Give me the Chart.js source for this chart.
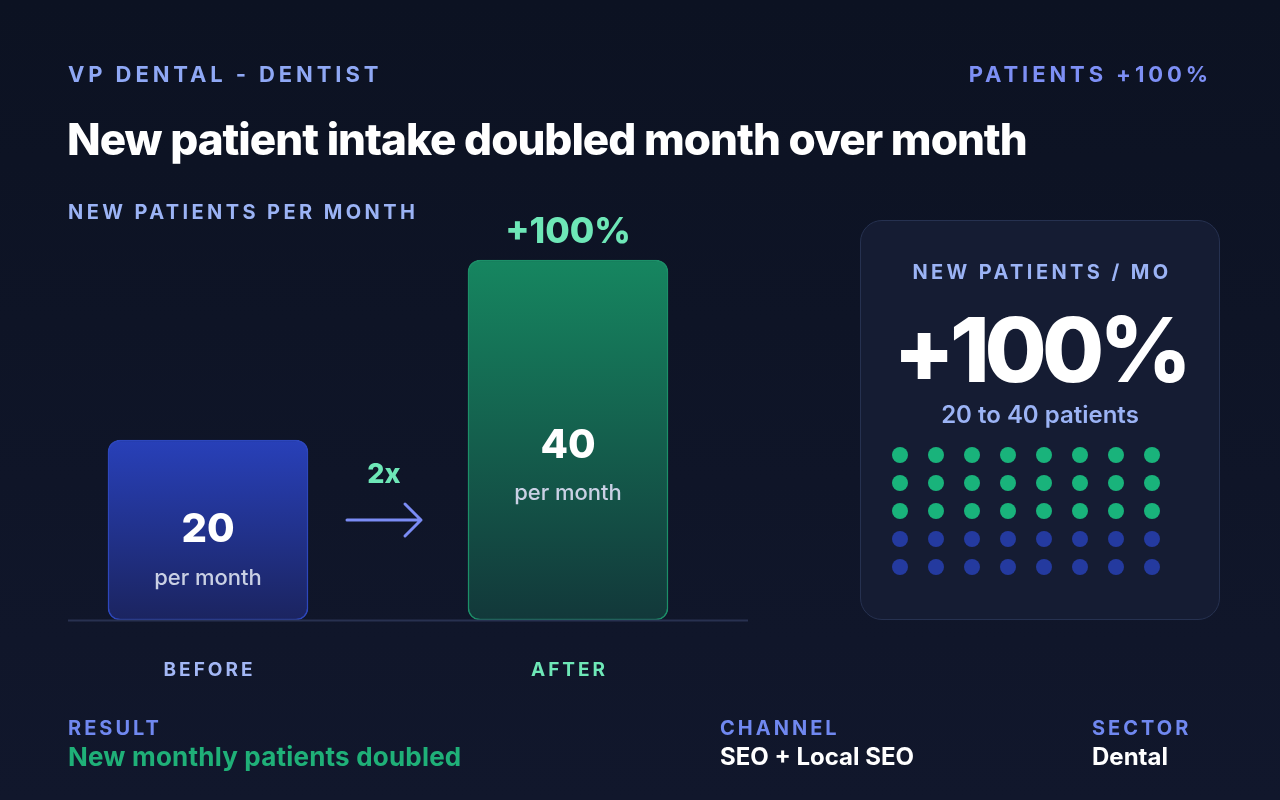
<!DOCTYPE html>
<html>
<head>
<meta charset="utf-8">
<script src="https://cdn.jsdelivr.net/npm/chart.js@4.4.1/dist/chart.umd.min.js"></script>
<style>
  html, body { margin:0; padding:0; }
  body { width:1280px; height:800px; overflow:hidden; position:relative;
         background: linear-gradient(180deg, #0c1222 0%, #11172c 100%);
         font-family: Inter, "Noto Sans", sans-serif; }
  .abs { position:absolute; white-space:nowrap; }
  .kicker { font-size:22px; font-weight:700; letter-spacing:3.9px; color:#8fa8f5; }
  .title { font-size:44px; font-weight:800; letter-spacing:-1px; color:#ffffff; }
  .sub { font-size:20px; font-weight:700; letter-spacing:3.4px; color:#9bb3f5; }
  .card { position:absolute; left:860px; top:220px; width:358px; height:398px;
          border:1px solid #263150; border-radius:22px; background:#151c33; }
  .flabel { font-size:20px; font-weight:700; letter-spacing:3px; color:#7088f0; }
  .fval { font-size:24px; font-weight:700; color:#ffffff; letter-spacing:0px; }
  canvas { position:absolute; }
</style>
</head>
<body>
<div class="card"></div>
<canvas id="bars" width="1280" height="800" style="left:0;top:0;width:1280px;height:800px;"></canvas>
<canvas id="dots" width="300" height="145" style="left:880px;top:440px;width:300px;height:145px;"></canvas>

<div class="abs kicker" style="left:68px;top:61px;">VP DENTAL - DENTIST</div>
<div class="abs kicker" style="right:68px;top:61px;color:#7d8ff5;">PATIENTS +100%</div>
<div class="abs title" style="left:67px;top:112px;">New patient intake doubled month over month</div>
<div class="abs sub" style="left:68px;top:200px;">NEW PATIENTS PER MONTH</div>

<div class="abs sub" style="left:862px;width:360px;text-align:center;top:260px;">NEW PATIENTS / MO</div>
<div class="abs" style="left:860px;width:360px;text-align:center;top:295px;font-size:90px;font-weight:800;letter-spacing:-5px;color:#fff;line-height:110px;">+100%</div>
<div class="abs" style="left:860px;width:360px;text-align:center;top:400px;font-size:24px;font-weight:600;color:#9bb3f5;">20 to 40 patients</div>

<div class="abs flabel" style="left:68px;top:716px;">RESULT</div>
<div class="abs fval" style="left:68px;top:741px;color:#1fb078;font-size:26px;letter-spacing:0.2px;">New monthly patients doubled</div>
<div class="abs flabel" style="left:720px;top:716px;">CHANNEL</div>
<div class="abs fval" style="left:720px;top:742px;">SEO + Local SEO</div>
<div class="abs flabel" style="left:1092px;top:716px;">SECTOR</div>
<div class="abs fval" style="left:1092px;top:742px;">Dental</div>

<script>
// ---- data ----
const categories = ['BEFORE', 'AFTER'];
const patientsPerMonth = [20, 40];
const valueUnit = 'per month';
const changeLabel = '+100%';
const multiplierLabel = '2x';
const yTicks = [0, 40];
// pictogram grid: 8 dots per row, row groups top to bottom
const dotColumns = [0, 1, 2, 3, 4, 5, 6, 7];
const dotRowGroups = ['after', 'after', 'after', 'before', 'before'];

const catColors = {
  BEFORE: { top:'#2840b9', bottom:'#1b2460', border:'#2d47bd', label:'#a3b7f5' },
  AFTER:  { top:'#168660', bottom:'#12383a', border:'#1c8f68', label:'#6ee7b7' }
};

function barGradient(c) {
  const chart = c.chart;
  const area = chart.chartArea;
  const cat = categories[c.dataIndex];
  const col = catColors[cat];
  if (!area) return col.top;
  const y = chart.scales.y;
  const top = y.getPixelForValue(patientsPerMonth[c.dataIndex]);
  const bottom = y.getPixelForValue(0);
  const g = chart.ctx.createLinearGradient(0, top, 0, bottom);
  g.addColorStop(0, col.top);
  g.addColorStop(1, col.bottom);
  return g;
}

const overlay = {
  id: 'overlay',
  afterDatasetsDraw(chart) {
    const ctx = chart.ctx;
    const meta = chart.getDatasetMeta(0);
    const yScale = chart.scales.y;
    const base = yScale.getPixelForValue(0);
    ctx.save();
    // baseline
    ctx.strokeStyle = '#283150';
    ctx.lineWidth = 2;
    ctx.beginPath();
    ctx.moveTo(68, base + 0.5);
    ctx.lineTo(748, base + 0.5);
    ctx.stroke();

    ctx.textAlign = 'center';
    ctx.textBaseline = 'middle';
    meta.data.forEach((bar, i) => {
      const x = bar.x;
      const top = bar.y;
      const h = base - top;
      const vy = top + h * 0.53 - 5;
      ctx.letterSpacing = '0px';
      ctx.fillStyle = '#ffffff';
      ctx.font = '800 40px Inter';
      ctx.fillText(String(patientsPerMonth[i]), x, vy);
      ctx.fillStyle = '#c9d0e4';
      ctx.font = '500 22px Inter';
      ctx.fillText(valueUnit, x, vy + 48);
      // category label
      ctx.letterSpacing = '3px';
      ctx.fillStyle = catColors[categories[i]].label;
      ctx.font = '700 19px Inter';
      ctx.fillText(categories[i], x + 1.5, base + 50);
    });
    // change label above AFTER bar
    const after = meta.data[1];
    ctx.letterSpacing = '0px';
    ctx.fillStyle = '#6ee7b7';
    ctx.font = '800 35.5px Inter';
    ctx.fillText(changeLabel, after.x, after.y - 28);
    // multiplier + arrow between bars
    const before = meta.data[0];
    const cx = (before.x + after.x) / 2 - 4;
    ctx.font = '800 27px Inter';
    ctx.fillText(multiplierLabel, cx, 475);
    ctx.strokeStyle = '#7b8cf5';
    ctx.lineWidth = 3;
    ctx.lineCap = 'round';
    ctx.lineJoin = 'round';
    ctx.beginPath();
    ctx.moveTo(cx - 37, 520);
    ctx.lineTo(cx + 37, 520);
    ctx.moveTo(cx + 21, 504);
    ctx.lineTo(cx + 37, 520);
    ctx.lineTo(cx + 21, 536);
    ctx.stroke();
    ctx.restore();
  }
};

new Chart(document.getElementById('bars'), {
  type: 'bar',
  data: {
    labels: categories,
    datasets: [{
      data: patientsPerMonth,
      backgroundColor: barGradient,
      borderColor: categories.map(c => catColors[c].border),
      borderWidth: 1.5,
      borderRadius: 12,
      borderSkipped: false,
      barThickness: 200,
      clip: false
    }]
  },
  options: {
    responsive: false,
    animation: false,
    devicePixelRatio: 1,
    layout: { padding: { left: 28, right: 532, top: 260, bottom: 180 } },
    plugins: { legend: { display: false }, tooltip: { enabled: false } },
    scales: {
      x: { display: false },
      y: { display: false, min: yTicks[0], max: yTicks[1] }
    }
  },
  plugins: [overlay]
});

// pictogram dots
const dotPoints = [];
const dotColors = [];
dotRowGroups.forEach((g, r) => {
  dotColumns.forEach(c => {
    dotPoints.push({ x: c, y: r });
    dotColors.push(g === 'after' ? '#19b37b' : '#243a9f');
  });
});

new Chart(document.getElementById('dots'), {
  type: 'scatter',
  data: {
    datasets: [{
      data: dotPoints,
      pointRadius: 8,
      pointBackgroundColor: dotColors,
      pointBorderWidth: 0,
      clip: false
    }]
  },
  options: {
    responsive: false,
    animation: false,
    devicePixelRatio: 1,
    layout: { padding: { left: 20, right: 28, top: 15, bottom: 18 } },
    plugins: { legend: { display: false }, tooltip: { enabled: false } },
    scales: {
      x: { display: false, min: 0, max: dotColumns.length - 1 },
      y: { display: false, min: 0, max: dotRowGroups.length - 1, reverse: true }
    }
  }
});
</script>
</body>
</html>
